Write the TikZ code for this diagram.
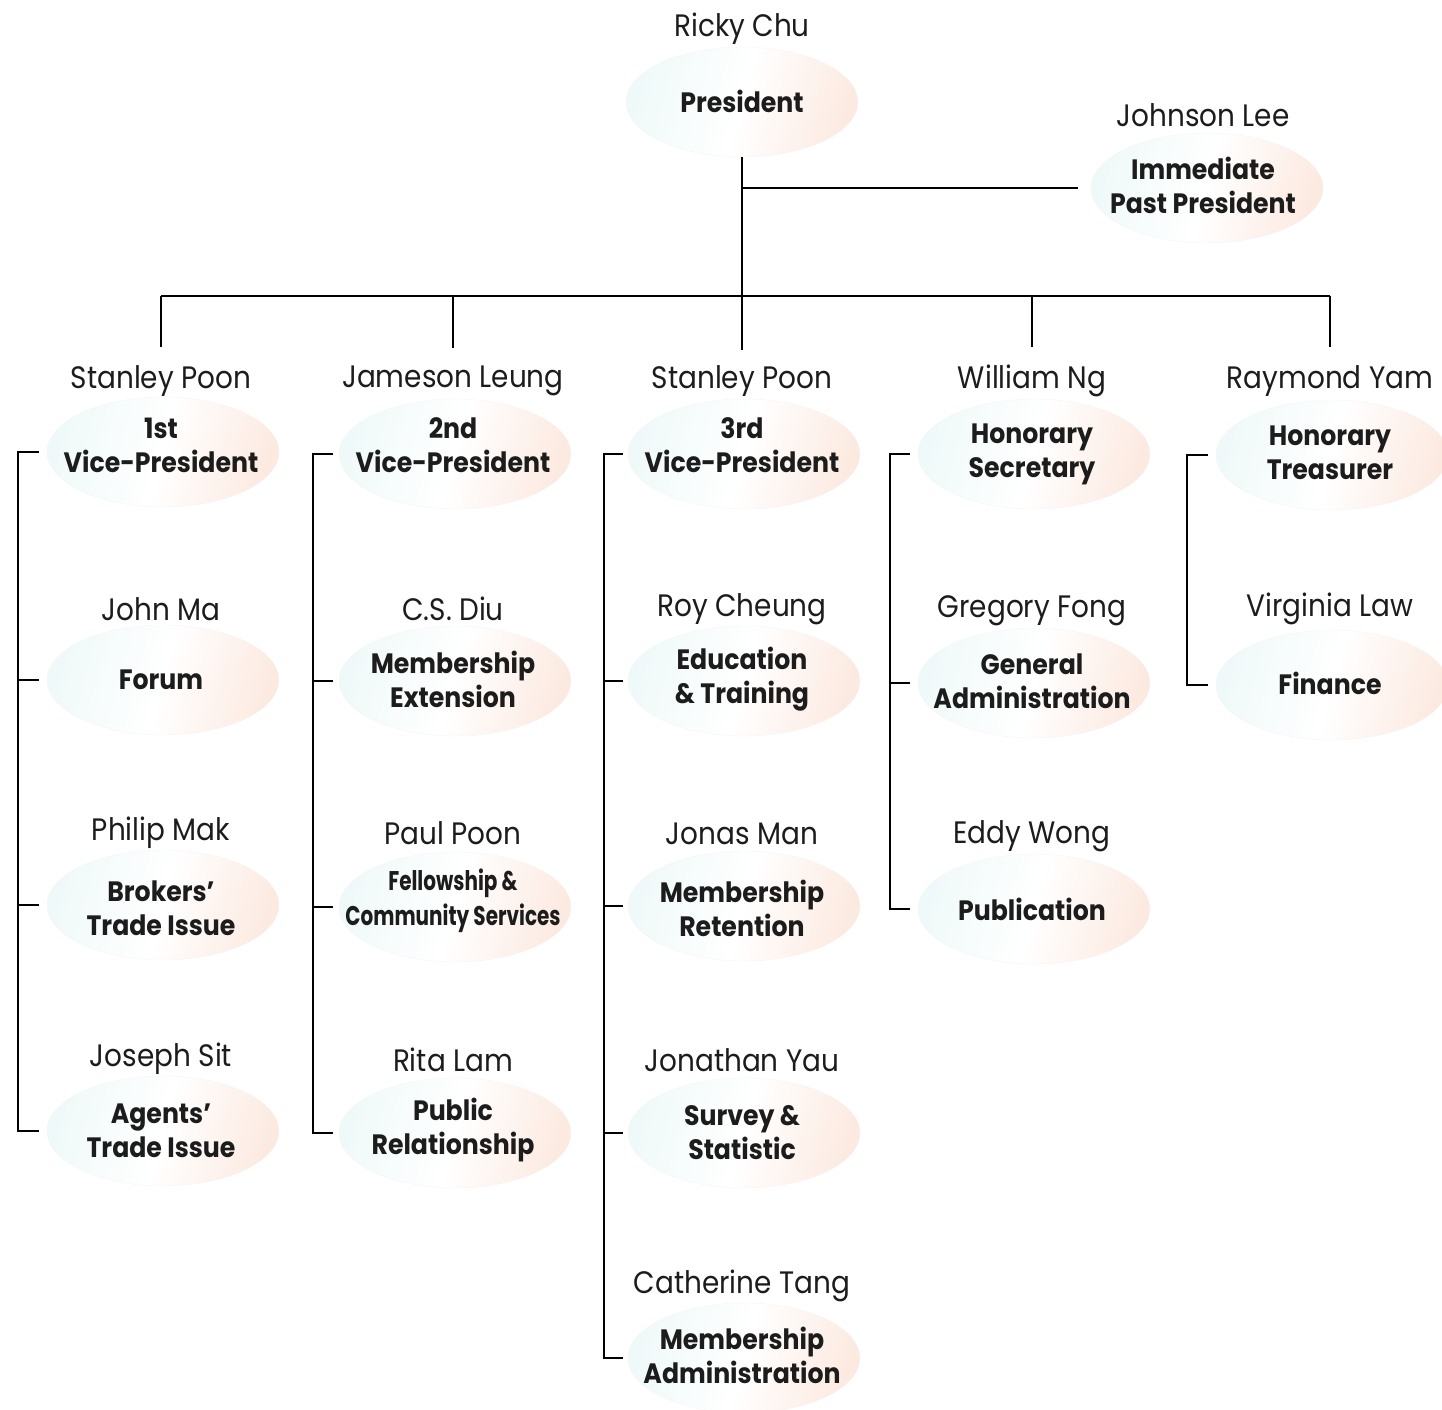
\documentclass[tikz,border=0pt]{standalone}
\usepackage{fontspec}
\setmainfont{Poppins}[FakeStretch=0.9]
\newfontfamily\condfont{Poppins}[FakeStretch=0.74]
\usetikzlibrary{shapes.geometric}
\definecolor{ink}{RGB}{28,28,28}
\definecolor{peach}{RGB}{252,234,225}
\definecolor{cyanish}{RGB}{240,249,249}
\tikzset{
  oval/.style={ellipse, minimum width=232, minimum height=110, inner sep=0,
    left color=cyanish, right color=peach, middle color=white, shading angle=75,
    draw=black!4},
  nm/.style={font=\fontsize{31}{34}\selectfont, text=ink, inner sep=2pt, yshift=-3},
  ttl/.style={font=\bfseries\fontsize{28}{34}\selectfont, text=ink, align=center, inner sep=0},
  ln/.style={line width=1.7pt, black}
}
\begin{document}
\begin{tikzpicture}[x=1pt,y=-1pt]
\useasboundingbox (0,0) rectangle (1442,1409);
% top
\node[oval] (e0) at (742,102) {};
\node[ttl] (t0) at (742,101) {President};
\node[nm] (n0) at (742,26) {Ricky Chu};
\node[oval] (eI) at (1207,188) {};
\node[ttl] (tI) at (1203,185) {Immediate\\Past President};
\node[nm] (nI) at (1203,112) {Johnson Lee};
% column 1
\node[oval] (e11) at (163,452) {};
\node[oval] (e12) at (163,680) {};
\node[oval] (e13) at (163,905) {};
\node[oval] (e14) at (163,1131) {};
\node[ttl] (t11) at (161,445) {1st\\Vice-President};
\node[ttl] (t12) at (161,680) {Forum};
\node[ttl] (t13) at (161,908) {Brokers’\\Trade Issue};
\node[ttl] (t14) at (161,1131) {Agents’\\Trade Issue};
\node[nm] (n11) at (161,378) {Stanley Poon};
\node[nm] (n12) at (161,606) {John Ma};
\node[nm] (n13) at (161,830) {Philip Mak};
\node[nm] (n14) at (161,1056) {Joseph Sit};
% column 2
\node[oval] (e21) at (455,454) {};
\node[oval] (e22) at (455,681) {};
\node[oval] (e23) at (455,907) {};
\node[oval] (e24) at (455,1133) {};
\node[ttl] (t21) at (453,445) {2nd\\Vice-President};
\node[ttl] (t22) at (453,679) {Membership\\Extension};
\node[ttl, font=\condfont\bfseries\fontsize{27}{35}\selectfont] (t23) at (453,901) {Fellowship \&\\Community Services};
\node[ttl] (t24) at (453,1130) {Public\\Relationship};
\node[nm] (n21) at (453,378) {Jameson Leung};
\node[nm] (n22) at (453,606) {C.S. Diu};
\node[nm] (n23) at (453,830) {Paul Poon};
\node[nm] (n24) at (453,1057) {Rita Lam};
% column 3
\node[oval] (e31) at (744,454) {};
\node[oval] (e32) at (744,681) {};
\node[oval] (e33) at (744,906) {};
\node[oval] (e34) at (744,1133) {};
\node[oval] (e35) at (744,1358) {};
\node[ttl] (t31) at (742,445) {3rd\\Vice-President};
\node[ttl] (t32) at (742,679) {Education\\\& Training};
\node[ttl] (t33) at (742,908) {Membership\\Retention};
\node[ttl] (t34) at (742,1133) {Survey \&\\Statistic};
\node[ttl] (t35) at (742,1355) {Membership\\Administration};
\node[nm] (n31) at (742,378) {Stanley Poon};
\node[nm] (n32) at (742,606) {Roy Cheung};
\node[nm] (n33) at (742,831) {Jonas Man};
\node[nm] (n34) at (742,1057) {Jonathan Yau};
\node[nm] (n35) at (742,1283) {Catherine Tang};
% column 4
\node[oval] (e41) at (1034,454) {};
\node[oval] (e42) at (1034,683) {};
\node[oval] (e43) at (1034,909) {};
\node[ttl] (t41) at (1032,454) {Honorary\\Secretary};
\node[ttl] (t42) at (1032,681) {General\\Administration};
\node[ttl] (t43) at (1032,909) {Publication};
\node[nm] (n41) at (1032,378) {William Ng};
\node[nm] (n42) at (1032,608) {Gregory Fong};
\node[nm] (n43) at (1032,833) {Eddy Wong};
% column 5
\node[oval] (e51) at (1332,455) {};
\node[oval] (e52) at (1332,685) {};
\node[ttl] (t51) at (1330,453) {Honorary\\Treasurer};
\node[ttl] (t52) at (1330,683) {Finance};
\node[nm] (n51) at (1330,378) {Raymond Yam};
\node[nm] (n52) at (1330,606) {Virginia Law};
% top connectors
\coordinate (bar) at (742,296);
\draw[ln] (e0.south) -- ([yshift=13]n31.north);
\draw[ln] (e0.south |- eI.west) -- ([xshift=-13]eI.west);
\draw[ln] (n11.north |- bar) -- (n51.north |- bar);
\foreach \n in {n11,n21,n41,n51} \draw[ln] (\n.north |- bar) -- ([yshift=16]\n.north);
% brackets
\coordinate (b1) at (18,0);
\coordinate (b2) at (313,0);
\coordinate (b3) at (604,0);
\coordinate (b4) at (890,0);
\coordinate (b5) at (1187,0);
\draw[ln] ([xshift=-8]e11.west) -- (b1 |- e11.west) -- (b1 |- e14.west) -- ([xshift=-8]e14.west);
\foreach \e in {e12,e13} \draw[ln] (b1 |- \e.west) -- ([xshift=-8]\e.west);
\draw[ln] ([xshift=-6]e21.west) -- (b2 |- e21.west) -- (b2 |- e24.west) -- ([xshift=-6]e24.west);
\foreach \e in {e22,e23} \draw[ln] (b2 |- \e.west) -- ([xshift=-6]\e.west);
\draw[ln] ([xshift=-5]e31.west) -- (b3 |- e31.west) -- (b3 |- e35.west) -- ([xshift=-5]e35.west);
\foreach \e in {e32,e33,e34} \draw[ln] (b3 |- \e.west) -- ([xshift=-5]\e.west);
\draw[ln] ([xshift=-8]e41.west) -- (b4 |- e41.west) -- (b4 |- e43.west) -- ([xshift=-8]e43.west);
\draw[ln] (b4 |- e42.west) -- ([xshift=-8]e42.west);
\draw[ln] ([xshift=-8]e51.west) -- (b5 |- e51.west) -- (b5 |- e52.west) -- ([xshift=-8]e52.west);
\end{tikzpicture}
\end{document}
